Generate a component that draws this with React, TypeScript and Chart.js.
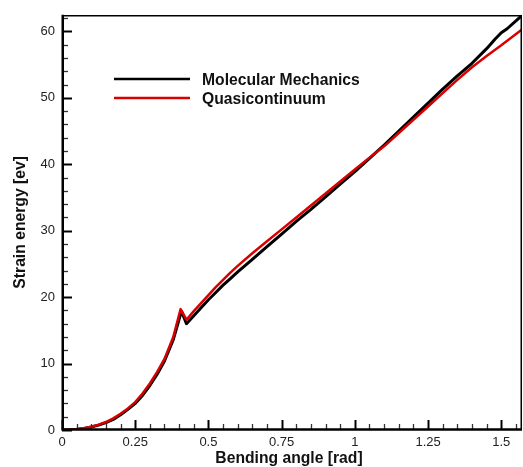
import React, { useEffect, useRef } from 'react';
import { Chart, registerables } from 'chart.js';

Chart.register(...registerables);

const seriesLabels = ['Molecular Mechanics', 'Quasicontinuum'];
const seriesColors = ['#000000', '#d80000'];

const mmAngle = [0, 0.025, 0.05, 0.075, 0.1, 0.125, 0.15, 0.175, 0.2, 0.225, 0.25, 0.275, 0.3, 0.325, 0.35, 0.38, 0.408, 0.425, 0.45, 0.475, 0.5, 0.525, 0.55, 0.575, 0.6, 0.65, 0.7, 0.75, 0.8, 0.85, 0.9, 0.95, 1.0, 1.05, 1.1, 1.15, 1.2, 1.25, 1.3, 1.35, 1.4, 1.45, 1.48, 1.5, 1.52, 1.5708];
const mmEnergy = [0, 0.02, 0.1, 0.24, 0.45, 0.74, 1.1, 1.6, 2.3, 3.1, 4.0, 5.2, 6.7, 8.4, 10.4, 13.6, 17.9, 16.0, 17.2, 18.4, 19.6, 20.7, 21.8, 22.8, 23.8, 25.7, 27.6, 29.5, 31.4, 33.2, 35.1, 37.0, 38.9, 40.9, 42.9, 45.0, 47.1, 49.2, 51.3, 53.3, 55.2, 57.4, 58.9, 59.8, 60.4, 62.4];

const qcAngle = [0, 0.025, 0.05, 0.075, 0.1, 0.125, 0.15, 0.175, 0.2, 0.225, 0.25, 0.275, 0.3, 0.325, 0.35, 0.38, 0.405, 0.425, 0.45, 0.475, 0.5, 0.525, 0.55, 0.575, 0.6, 0.65, 0.7, 0.75, 0.8, 0.85, 0.9, 0.95, 1.0, 1.05, 1.1, 1.15, 1.2, 1.25, 1.3, 1.35, 1.4, 1.45, 1.5, 1.5708];
const qcEnergy = [0, 0.03, 0.12, 0.28, 0.5, 0.8, 1.2, 1.75, 2.45, 3.25, 4.2, 5.5, 7.0, 8.75, 10.7, 14.0, 18.2, 16.6, 17.9, 19.1, 20.3, 21.5, 22.6, 23.7, 24.7, 26.6, 28.4, 30.2, 32.0, 33.8, 35.6, 37.4, 39.2, 41.0, 42.7, 44.7, 46.7, 48.7, 50.7, 52.7, 54.6, 56.3, 57.9, 60.3];

const xTickValues = [0, 0.25, 0.5, 0.75, 1, 1.25, 1.5];
const xTickLabels = ['0', '0.25', '0.5', '0.75', '1', '1.25', '1.5'];
const yTickValues = [0, 10, 20, 30, 40, 50, 60];
const yTickLabels = ['0', '10', '20', '30', '40', '50', '60'];

const xTitle = 'Bending angle [rad]';
const yTitle = 'Strain energy [ev]';
const xMax = 1.5708;
const yMax = 62.5;

const FONT = "'Liberation Sans', Arial, sans-serif";

const framePlugin = {
  id: 'frameTicks',
  afterDraw(chart: any) {
    const { ctx, chartArea } = chart;
    const { left, right, top, bottom } = chartArea;
    const xs = chart.scales.x;
    const ys = chart.scales.y;
    ctx.save();
    // x ticks (minor every 0.05, major every 0.25)
    for (let i = 0; i * 0.05 <= xMax + 1e-9; i++) {
      const v = i * 0.05;
      const major = i % 5 === 0;
      const px = Math.round(xs.getPixelForValue(v)) + 0.5;
      ctx.beginPath();
      ctx.strokeStyle = major ? '#000' : '#333';
      ctx.lineWidth = major ? 2 : 1.3;
      ctx.moveTo(px, bottom);
      ctx.lineTo(px, bottom - (major ? 10 : 6));
      ctx.stroke();
    }
    // y ticks (minor every 2, major every 10)
    for (let i = 0; i * 2 <= yMax + 1e-9; i++) {
      const v = i * 2;
      const major = v % 10 === 0;
      const py = Math.round(ys.getPixelForValue(v)) + 0.5;
      ctx.beginPath();
      ctx.strokeStyle = major ? '#000' : '#333';
      ctx.lineWidth = major ? 2 : 1.3;
      ctx.moveTo(left, py);
      ctx.lineTo(left + (major ? 10 : 6), py);
      ctx.stroke();
    }
    // frame
    ctx.strokeStyle = '#000';
    ctx.lineWidth = 1.5;
    ctx.beginPath();
    ctx.moveTo(left, top + 1);
    ctx.lineTo(right - 0.75, top + 1);
    ctx.lineTo(right - 0.75, bottom);
    ctx.stroke();
    ctx.lineWidth = 2.5;
    ctx.beginPath();
    ctx.moveTo(left + 0.75, top);
    ctx.lineTo(left + 0.75, bottom - 0.5);
    ctx.lineTo(right, bottom - 0.5);
    ctx.stroke();

    // legend
    const legendY = [79, 98];
    const baseY = [84.5, 104];
    ctx.font = `bold 15.7px ${FONT}`;
    ctx.textAlign = 'left';
    ctx.textBaseline = 'alphabetic';
    for (let i = 0; i < seriesLabels.length; i++) {
      ctx.beginPath();
      ctx.strokeStyle = seriesColors[i];
      ctx.lineWidth = 2.5;
      ctx.moveTo(114, legendY[i]);
      ctx.lineTo(190, legendY[i]);
      ctx.stroke();
      ctx.fillStyle = '#111';
      ctx.fillText(seriesLabels[i], 202, baseY[i]);
    }

    // axis titles
    ctx.fillStyle = '#111';
    ctx.font = `bold 15.7px ${FONT}`;
    ctx.textAlign = 'center';
    ctx.textBaseline = 'middle';
    ctx.fillText(xTitle, (left + right) / 2 - 3, 459);
    ctx.save();
    ctx.translate(21, (top + bottom) / 2);
    ctx.rotate(-Math.PI / 2);
    ctx.fillText(yTitle, 0, 0);
    ctx.restore();
    ctx.restore();
  },
};

export default function App() {
  const ref = useRef<HTMLCanvasElement | null>(null);
  useEffect(() => {
    document.body.style.margin = '0';
    if (!ref.current) return;
    const chart = new Chart(ref.current, {
      type: 'line',
      data: {
        datasets: [
          {
            label: seriesLabels[0],
            data: mmAngle.map((a, i) => ({ x: a, y: mmEnergy[i] })),
            borderColor: seriesColors[0],
            borderWidth: 3,
            pointRadius: 0,
            tension: 0,
            borderJoinStyle: 'round',
            order: 2,
          },
          {
            label: seriesLabels[1],
            data: qcAngle.map((a, i) => ({ x: a, y: qcEnergy[i] })),
            borderColor: seriesColors[1],
            borderWidth: 2.5,
            pointRadius: 0,
            tension: 0,
            borderJoinStyle: 'round',
            order: 1,
          },
        ],
      },
      options: {
        animation: false,
        responsive: false,
        maintainAspectRatio: false,
        devicePixelRatio: 1,
        layout: { padding: { top: 10, right: 1, left: 0, bottom: 0 } },
        plugins: { legend: { display: false }, tooltip: { enabled: false } },
        scales: {
          x: {
            type: 'linear',
            min: 0,
            max: xMax,
            grid: { display: false, drawTicks: false },
            border: { display: false },
            afterBuildTicks: (s: any) => {
              s.ticks = xTickValues.map((v) => ({ value: v }));
            },
            afterFit: (s: any) => {
              s.height = 37;
            },
            ticks: {
              padding: 5,
              maxRotation: 0,
              autoSkip: false,
              color: '#222',
              font: { family: FONT, size: 13 },
              callback: (v: any) => {
                const idx = xTickValues.indexOf(Number(v));
                return idx >= 0 ? xTickLabels[idx] : '';
              },
            },
          },
          y: {
            type: 'linear',
            min: 0,
            max: yMax,
            grid: { display: false, drawTicks: false },
            border: { display: false },
            afterBuildTicks: (s: any) => {
              s.ticks = yTickValues.map((v) => ({ value: v }));
            },
            afterFit: (s: any) => {
              s.width = 62;
            },
            ticks: {
              padding: 7,
              autoSkip: false,
              color: '#222',
              font: { family: FONT, size: 13 },
              callback: (v: any) => {
                const idx = yTickValues.indexOf(Number(v));
                return idx >= 0 ? yTickLabels[idx] : '';
              },
            },
          },
        },
      },
      plugins: [framePlugin],
    });
    return () => chart.destroy();
  }, []);
  return (
    <div style={{ position: 'absolute', left: 0, top: 0, width: 523, height: 467 }}>
      <canvas ref={ref} width={523} height={467} style={{ width: 523, height: 467, display: 'block' }} />
    </div>
  );
}
